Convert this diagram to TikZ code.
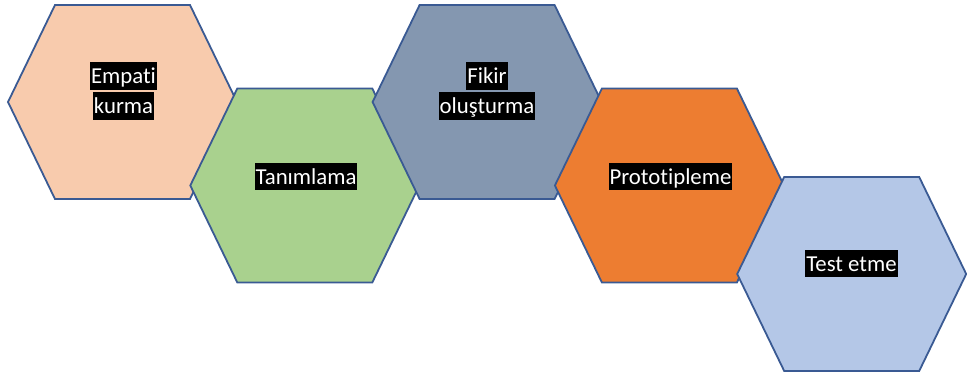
\documentclass[tikz,border=0pt]{standalone}
\usepackage{fontspec}
\setmainfont{Carlito}[RawFeature={-liga;-clig}]
\definecolor{peach}{HTML}{F8CBAD}
\definecolor{sgreen}{HTML}{A9D18E}
\definecolor{sgray}{HTML}{8497B0}
\definecolor{sorange}{HTML}{ED7D31}
\definecolor{sblue}{HTML}{B4C7E7}
\definecolor{outl}{HTML}{3A5A93}
\newcommand{\hlbox}[1]{{\setlength{\fboxsep}{0pt}\colorbox{black}{\kern1pt\rule[-0.27em]{0pt}{1.2em}#1\kern1pt}}}
\newcommand{\hexat}[3]{\draw[hexout, fill=#3] (#1-114.5,#2) -- (#1-67.5,#2-97) -- (#1+67.5,#2-97) -- (#1+114.5,#2) -- (#1+67.5,#2+97) -- (#1-67.5,#2+97) -- cycle;}
\begin{document}
\begin{tikzpicture}[x=1pt,y=-1pt,
  hexout/.style={draw=outl, line width=1.8pt, line join=miter},
  lbl/.style={text=white, font=\fontsize{22.8}{30}\selectfont, align=center, inner sep=0pt}]
\useasboundingbox (0,0) rectangle (967,373);
\hexat{122.5}{102}{peach}
\hexat{304.8}{185.5}{sgreen}
\hexat{487.1}{102}{sgray}
\hexat{669.4}{185.5}{sorange}
\hexat{851.7}{274}{sblue}
\node[lbl] (empati) at (123.5,91) {\hlbox{Empati}\\\hlbox{kurma}};
\node[lbl] (tanim) at (306,176.5) {\hlbox{Tanımlama}};
\node[lbl] (fikir) at (487,91) {\hlbox{Fikir}\\\hlbox{oluşturma}};
\node[lbl] (proto) at (670.5,176.5) {\hlbox{Prototipleme}};
\node[lbl] (test) at (851.5,263.5) {\hlbox{Test etme}};
\end{tikzpicture}
\end{document}
